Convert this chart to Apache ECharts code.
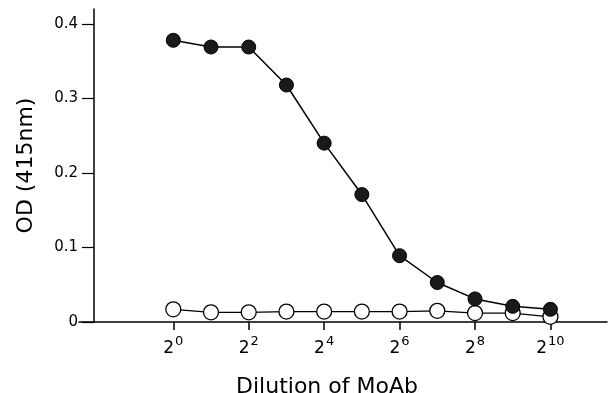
<!DOCTYPE html>
<html>
<head>
<meta charset="utf-8">
<script src="https://cdn.jsdelivr.net/npm/echarts@6/dist/echarts.min.js"></script>
<style>html,body{margin:0;padding:0;background:#fff}#c{width:614px;height:393px}</style>
</head>
<body>
<div id="c"></div>
<script>
// log2 of dilution
var exponents = [0, 1, 2, 3, 4, 5, 6, 7, 8, 9, 10];
var filledOD = [0.378, 0.369, 0.369, 0.318, 0.240, 0.171, 0.089, 0.053, 0.031, 0.021, 0.017];
var openOD   = [0.017, 0.013, 0.013, 0.014, 0.014, 0.014, 0.014, 0.015, 0.012, 0.012, 0.007];
var xTickExps = [0, 2, 4, 6, 8, 10];
var yTicks = [0, 0.1, 0.2, 0.3, 0.4];

var FONT = 'DejaVu Sans';
function pairs(xs, ys) { return xs.map(function (x, i) { return [x, ys[i]]; }); }

var chart = echarts.init(document.getElementById('c'));
chart.setOption({
  animation: false,
  backgroundColor: '#fff',
  grid: { left: 79, right: 7, top: 9, bottom: 71, containLabel: false, outerBoundsMode: 'none' },
  xAxis: {
    type: 'value', min: -2.5, max: 11.5,
    splitLine: { show: false },
    axisLine: { onZero: false, lineStyle: { color: '#000', width: 1.5 } },
    axisTick: { customValues: xTickExps, length: 8, lineStyle: { color: '#000', width: 1.5 } },
    axisLabel: {
      customValues: xTickExps, margin: 13, color: '#000', fontFamily: FONT,
      formatter: function (v) { return '{b|2}{s|' + v + '}'; },
      rich: {
        b: { fontSize: 17, lineHeight: 22, fontFamily: FONT, color: '#000', verticalAlign: 'bottom' },
        s: { fontSize: 13, lineHeight: 13, fontFamily: FONT, color: '#000', verticalAlign: 'top', padding: [0, 0, 0, 1] }
      }
    },
    name: 'Dilution of MoAb', nameLocation: 'middle', nameGap: 54,
    nameTextStyle: { fontSize: 22, fontFamily: FONT, color: '#000', padding: [0, 32, 0, 0] }
  },
  yAxis: {
    type: 'value', min: 0, max: 0.42, offset: -15,
    splitLine: { show: false },
    axisLine: { show: true, onZero: false, lineStyle: { color: '#000', width: 1.5 } },
    axisTick: { show: true, customValues: yTicks, length: 12, lineStyle: { color: '#000', width: 1.2 } },
    axisLabel: {
      customValues: yTicks, margin: 16, color: '#000', fontSize: 15, fontFamily: FONT,
      formatter: function (v) { return v === 0 ? '0' : v.toFixed(1); }
    },
    name: 'OD (415nm)', nameLocation: 'middle', nameGap: 57,
    nameTextStyle: { fontSize: 22, fontFamily: FONT, color: '#000' }
  },
  series: [
    {
      type: 'line', data: pairs(exponents, openOD),
      symbol: 'circle', symbolSize: 15,
      lineStyle: { color: '#000', width: 1.3 },
      itemStyle: { color: '#fff', borderColor: '#000', borderWidth: 1.3 },
      z: 2
    },
    {
      type: 'line', data: pairs(exponents, filledOD),
      symbol: 'circle', symbolSize: 14,
      lineStyle: { color: '#000', width: 1.5 },
      itemStyle: { color: '#1a1a1a', borderColor: '#000', borderWidth: 1 },
      z: 3
    }
  ]
});
</script>
</body>
</html>
